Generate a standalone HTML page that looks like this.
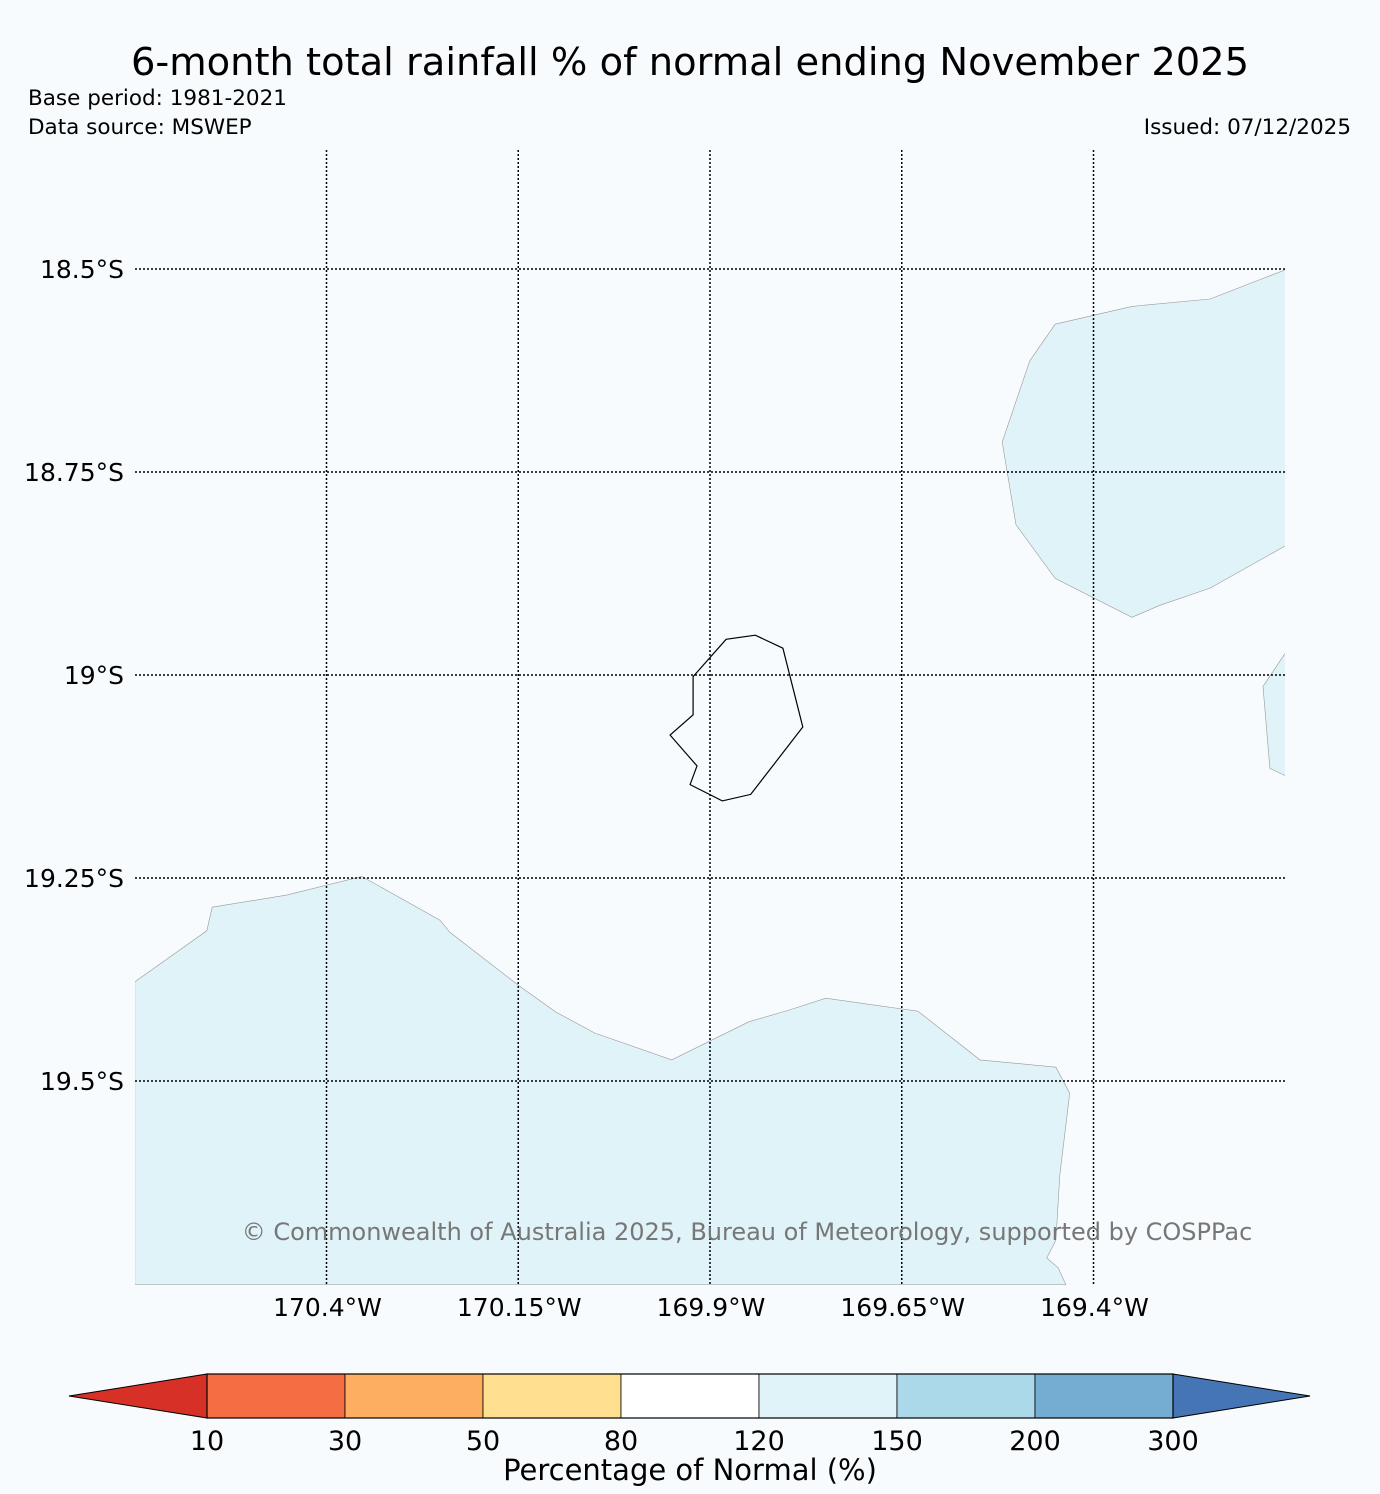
<!DOCTYPE html>
<html><head><meta charset="utf-8"><style>
body{margin:0;background:#f7fbfd;}
svg{display:block;font-family:"DejaVu Sans","Liberation Sans",sans-serif;}
</style></head><body>
<svg id="chart" width="1380" height="1494" viewBox="0 0 1380 1494">
<rect width="1380" height="1494" fill="#f7fbfd"/>
<text x="690" y="75" font-size="38.4" text-anchor="middle">6-month total rainfall % of normal ending November 2025</text>
<text x="28" y="105" font-size="21.5">Base period: 1981-2021</text>
<text x="28" y="134" font-size="21.5">Data source: MSWEP</text>
<text x="1351" y="134" font-size="21.5" text-anchor="end">Issued: 07/12/2025</text>
<defs><clipPath id="mapclip"><rect x="135" y="150" width="1150" height="1135"/></clipPath></defs>
<g id="shapes" clip-path="url(#mapclip)"></g>
<g id="grid"></g>
<text x="747" y="1240" font-size="24" fill="#777" text-anchor="middle">© Commonwealth of Australia 2025, Bureau of Meteorology, supported by COSPPac</text>
<g id="cbar"></g>
<text x="690" y="1480" font-size="29" text-anchor="middle">Percentage of Normal (%)</text>
</svg>
<script>
const lonTicks=[-170.4,-170.15,-169.9,-169.65,-169.4];
const lonLabels=["170.4°W","170.15°W","169.9°W","169.65°W","169.4°W"];
const latTicks=[18.5,18.75,19,19.25,19.5];
const latLabels=["18.5°S","18.75°S","19°S","19.25°S","19.5°S"];
const islandLon=[-169.922,-169.879,-169.841,-169.805,-169.779,-169.847,-169.884,-169.926,-169.917,-169.952,-169.922];
const islandLat=[19.002,18.956,18.951,18.967,19.064,19.147,19.155,19.135,19.112,19.074,19.049];
const neLon=[-169.150,-169.248,-169.350,-169.450,-169.483,-169.519,-169.501,-169.450,-169.350,-169.313,-169.248,-169.150];
const neLat=[18.501,18.537,18.546,18.568,18.613,18.713,18.815,18.881,18.929,18.914,18.893,18.841];
const eLon=[-169.150,-169.179,-169.170,-169.150];
const eLat=[18.973,19.014,19.115,19.124];
const sLon=[-170.650,-170.556,-170.549,-170.452,-170.354,-170.252,-170.239,-170.150,-170.101,-170.050,-169.950,-169.849,-169.798,-169.749,-169.629,-169.548,-169.449,-169.431,-169.444,-169.449,-169.461,-169.446,-169.436,-170.650];
const sLat=[19.378,19.315,19.286,19.271,19.248,19.302,19.317,19.382,19.415,19.441,19.474,19.427,19.413,19.398,19.414,19.474,19.483,19.515,19.616,19.696,19.718,19.730,19.751,19.751];
const cbLabels=["10","30","50","80","120","150","200","300"];
const cbColors=["#d73027","#f46d43","#fdae61","#fee090","#ffffff","#e0f3f8","#abd9e9","#74add1","#4575b4"];

const NS="http://www.w3.org/2000/svg";
const X=lon=>710+(lon+169.9)*767;
const Y=lat=>675+(lat-19)*812;
function mk(tag,attrs,parent){const e=document.createElementNS(NS,tag);for(const k in attrs)e.setAttribute(k,attrs[k]);parent.appendChild(e);return e;}
const shapes=document.getElementById('shapes');
function poly(lons,lats,fill,stroke,sw,name){
  const pts=lons.map((l,i)=>X(l).toFixed(1)+','+Y(lats[i]).toFixed(1)).join(' ');
  const p=mk('polygon',{points:pts,fill:fill,stroke:stroke,'stroke-width':sw},shapes);
  
  
}
poly(sLon,sLat,"#e0f3f8","#999","0.6","south-landmass-150-200");
poly(neLon,neLat,"#e0f3f8","#999","0.6","northeast-region-150-200");
poly(eLon,eLat,"#e0f3f8","#999","0.6","east-region-150-200");
poly(islandLon,islandLat,"none","#000","1.2","niue-island-outline");

const grid=document.getElementById('grid');
lonTicks.forEach((lon,i)=>{
  const l=mk('line',{x1:X(lon),x2:X(lon),y1:150,y2:1285,stroke:'#000','stroke-width':1.5,'stroke-dasharray':'2,2'},grid);
  
  
  const t=mk('text',{x:X(lon)+1,y:1316,'font-size':25,'text-anchor':'middle'},grid);
  t.textContent=lonLabels[i];
  
  
});
latTicks.forEach((lat,i)=>{
  const l=mk('line',{x1:135,x2:1285,y1:Y(lat),y2:Y(lat),stroke:'#000','stroke-width':1.5,'stroke-dasharray':'2,2'},grid);
  
  
  const t=mk('text',{x:124,y:Y(lat)+9,'font-size':25,'text-anchor':'end'},grid);
  t.textContent=latLabels[i];
  
  
});

const cb=document.getElementById('cbar');
const x0=207,w=138,y0=1374,h=44;
cbColors.forEach((c,i)=>{
  let e;
  if(i===0){e=mk('polygon',{points:`69,${y0+h/2} ${x0},${y0} ${x0},${y0+h}`,fill:c,stroke:'#000','stroke-width':1},cb);}
  else if(i===cbColors.length-1){const xs=x0+(i-1)*w;e=mk('polygon',{points:`${xs},${y0} 1310,${y0+h/2} ${xs},${y0+h}`,fill:c,stroke:'#000','stroke-width':1},cb);}
  else{e=mk('rect',{x:x0+(i-1)*w,y:y0,width:w,height:h,fill:c,stroke:'#000','stroke-width':0.8},cb);}
  
  
});
mk('rect',{x:x0,y:y0,width:w*7,height:h,fill:'none',stroke:'#000','stroke-width':1.2},cb);
cbLabels.forEach((s,i)=>{
  const t=mk('text',{x:x0+i*w,y:1450,'font-size':27,'text-anchor':'middle'},cb);
  t.textContent=s;
  
  
});
</script>
</body></html>
